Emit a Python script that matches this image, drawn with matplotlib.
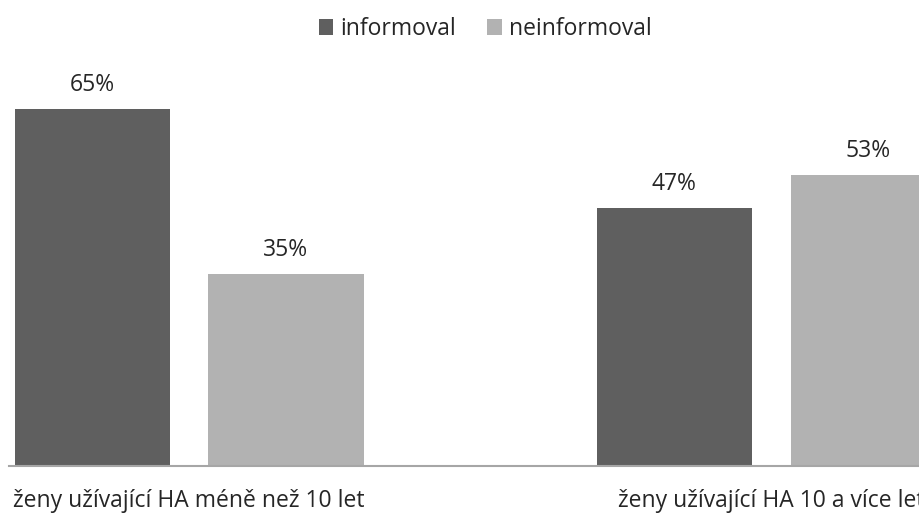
import matplotlib
matplotlib.use("Agg")
import matplotlib.pyplot as plt
from matplotlib.transforms import offset_copy
import numpy as np

plt.rcParams['font.family'] = ['Open Sans', 'DejaVu Sans']

categories = ["ženy užívající HA méně než 10 let", "ženy užívající HA 10 a více let"]
series_names = ["informoval", "neinformoval"]
informoval = [65, 47]
neinformoval = [35, 53]
colors = ["#5f5f5f", "#b2b2b2"]

W, H, DPI = 920, 516, 100
fig = plt.figure(figsize=(W / DPI, H / DPI), dpi=DPI)

# plot area in pixel terms
left_px, right_px = 9, 920
base_px = 466           # baseline, from top
unit_px = 582           # distance between category centres
c0_px = 189             # centre of first category
px_per_pct = 5.49
ymax = 70
FS = 16.5
TXT = "#262626"

ax = fig.add_axes([left_px / W, (H - base_px) / H,
                   (right_px - left_px) / W, ymax * px_per_pct / H])
ax.set_xlim((left_px - c0_px) / unit_px, (right_px - c0_px) / unit_px)
ax.set_ylim(0, ymax)

x = np.arange(len(categories))
bw = 155 / unit_px
off = 97 / unit_px
b1 = ax.bar(x - off, informoval, bw, color=colors[0], label=series_names[0])
b2 = ax.bar(x + off, neinformoval, bw, color=colors[1], label=series_names[1])

for bars, vals in ((b1, informoval), (b2, neinformoval)):
    for r, v in zip(bars, vals):
        ax.annotate(f"{v}%", (r.get_x() + r.get_width() / 2, v),
                    xytext=(0, 18), textcoords="offset pixels",
                    ha="center", va="baseline", fontsize=FS, color=TXT)

for s in ("top", "right", "left"):
    ax.spines[s].set_visible(False)
ax.spines["bottom"].set_color("#a6a6a6")
ax.spines["bottom"].set_linewidth(1.5)
ax.set_yticks([])
ax.set_xticks([])

# category labels under the axis, centred on each group
tr = offset_copy(ax.get_xaxis_transform(), fig=fig, x=0, y=-41, units="dots")
for xi, name in zip(x, categories):
    ax.text(xi, 0, name, transform=tr, ha="center", va="baseline",
            fontsize=FS, color=TXT, clip_on=False)

fig.legend(loc="center", bbox_to_anchor=(485 / W, 1 - 29 / H), ncol=2,
           frameon=False, fontsize=FS, handlelength=0.65, handleheight=0.65,
           handletextpad=0.3, columnspacing=1.35, labelcolor=TXT,
           borderpad=0, borderaxespad=0)

fig.savefig("out.png", dpi=DPI)
